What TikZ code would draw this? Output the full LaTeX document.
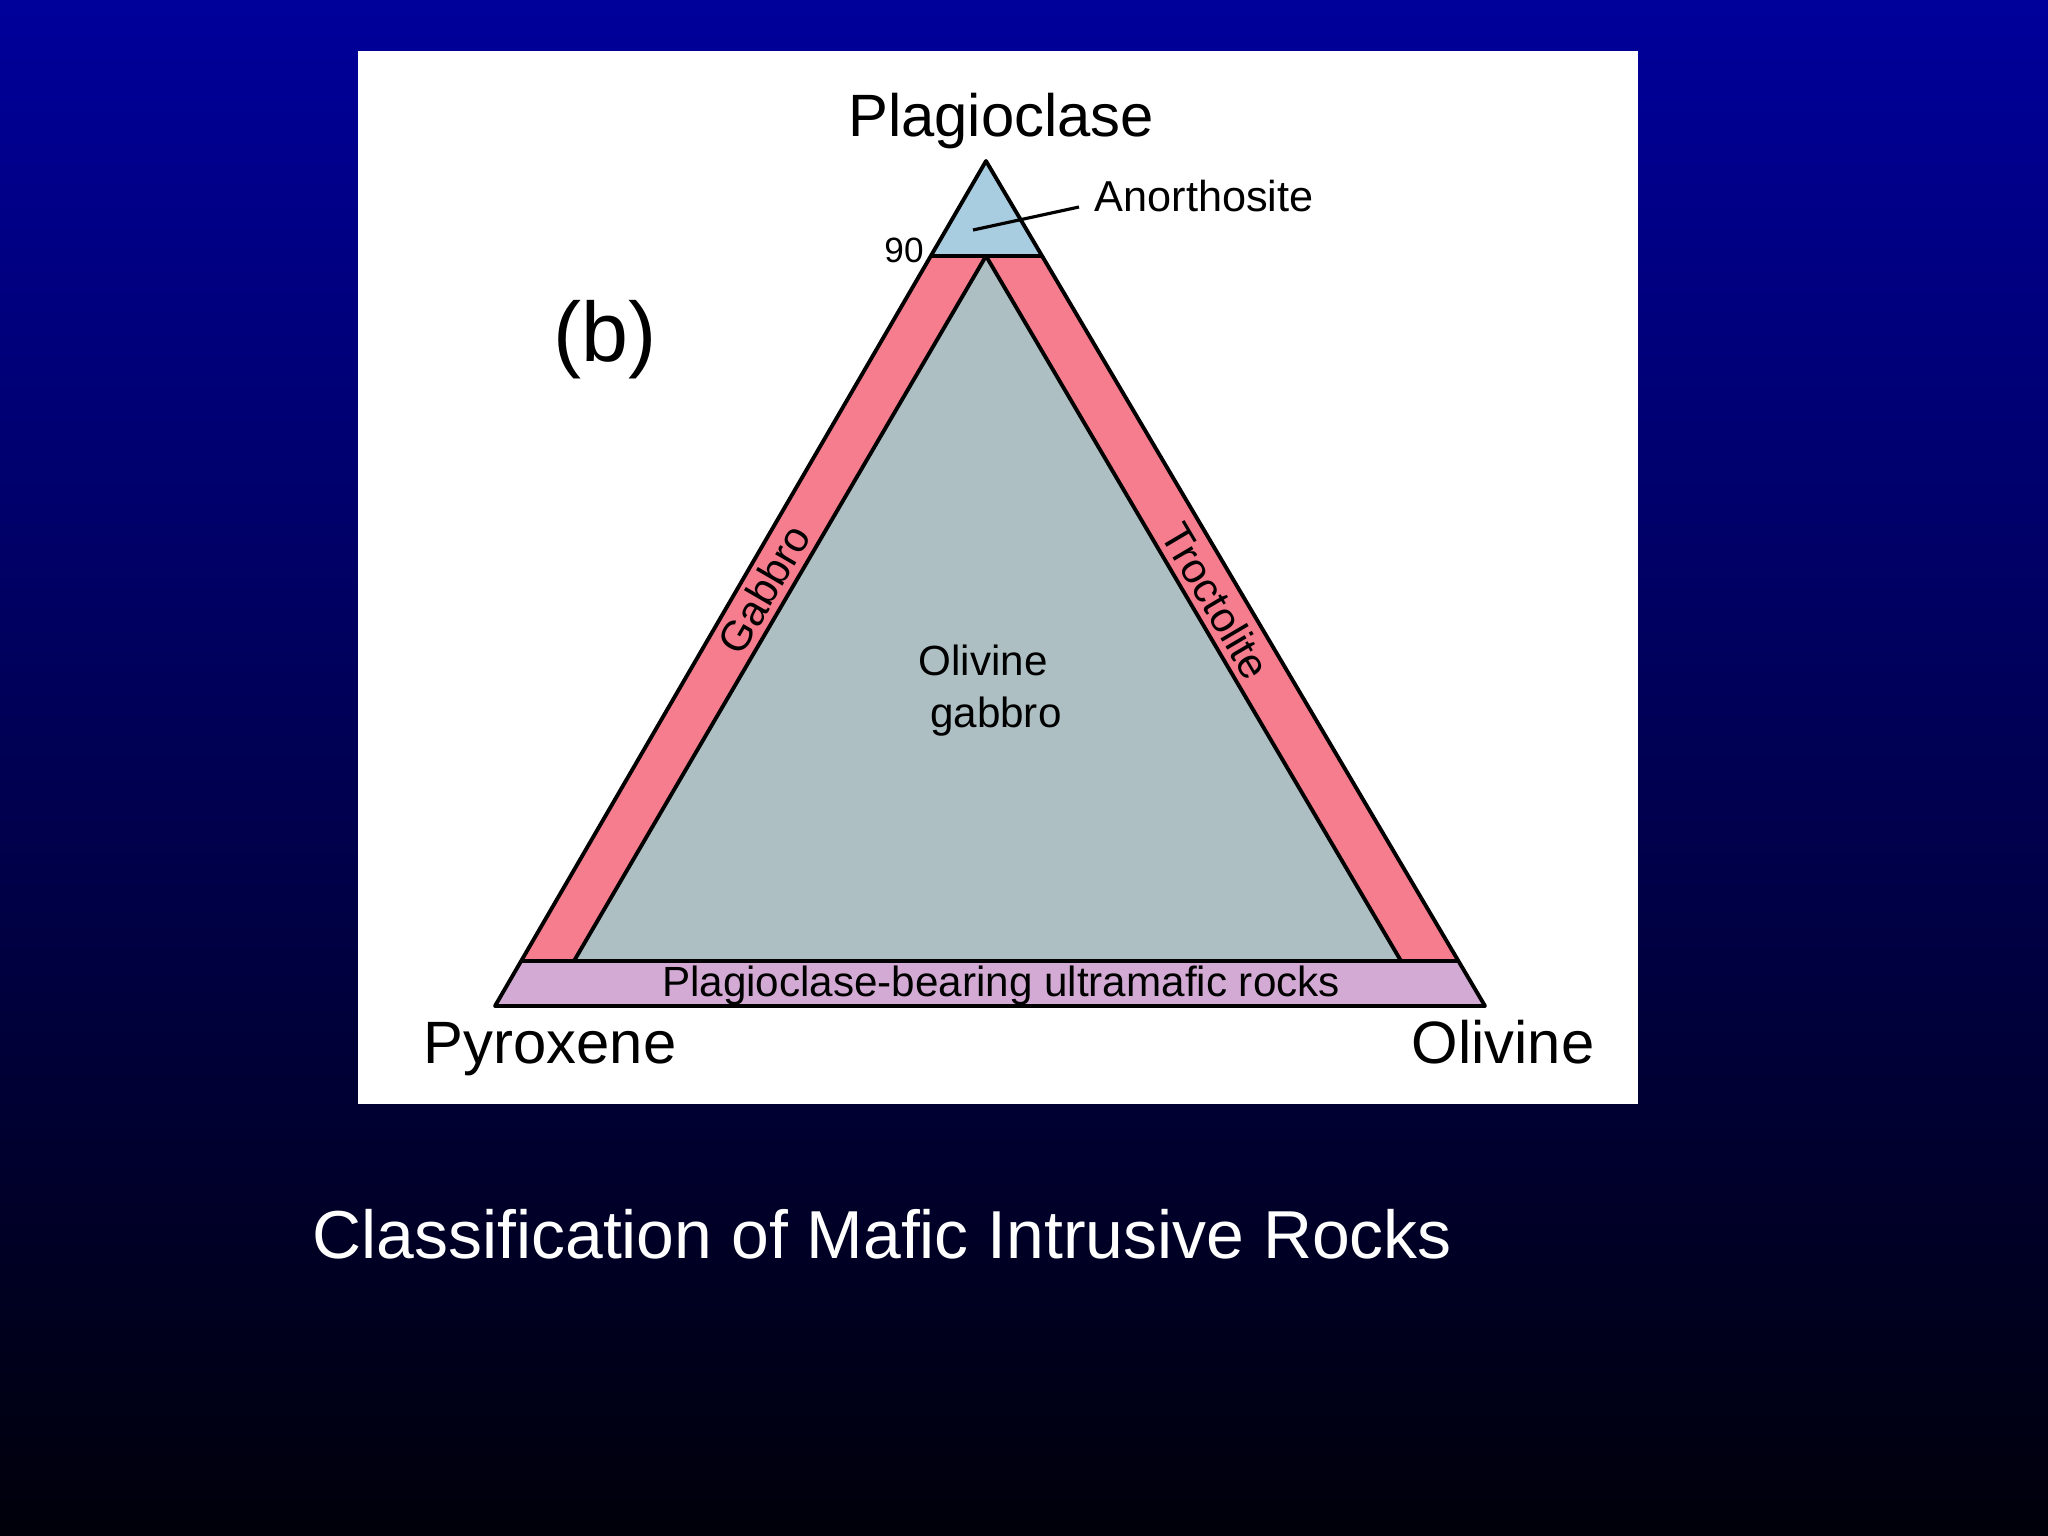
\documentclass[tikz,border=0pt]{standalone}
\usepackage{fontspec}
\setmainfont{Liberation Sans}
\definecolor{bgtop}{RGB}{0,0,155}
\definecolor{bgmid}{RGB}{0,0,62}
\definecolor{bgbot}{RGB}{0,0,10}
\definecolor{anorth}{RGB}{168,204,224}
\definecolor{gabpink}{RGB}{245,125,142}
\definecolor{olgray}{RGB}{173,191,195}
\definecolor{ultrap}{RGB}{211,170,212}
\tikzset{
  lbl/.style={inner sep=0pt, text=black},
  vertex/.style={lbl, font=\fontsize{17}{20}\selectfont},
  field/.style={lbl, font=\fontsize{12}{14.8}\selectfont},
  border/.style={line width=1.1pt, line join=round}
}
\begin{document}
\begin{tikzpicture}[x=0.01cm, y=-0.01cm]
\useasboundingbox (0,0) rectangle (2048,1536);
\shade[top color=bgtop, middle color=bgmid, bottom color=bgbot] (0,0) rectangle (2048,1536);
\fill[white] (358,51) rectangle (1638,1104);
\coordinate (Pl) at (986,161);
\coordinate (Py) at (495,1006);
\coordinate (Ol) at (1485,1006);
\coordinate (a1) at (931,256);
\coordinate (a2) at (1042,256);
\coordinate (b1) at (521,961);
\coordinate (b2) at (1458,961);
\coordinate (g0) at (986,256);
\coordinate (g1) at (574,961);
\coordinate (g2) at (1401,961);
\fill[gabpink] (a1) -- (a2) -- (b2) -- (b1) -- cycle;
\fill[olgray] (g0) -- (g2) -- (g1) -- cycle;
\fill[anorth] (Pl) -- (a2) -- (a1) -- cycle;
\fill[ultrap] (b1) -- (b2) -- (Ol) -- (Py) -- cycle;
\draw[border] (g1) -- (g0) -- (g2);
\draw[border] (a1) -- (a2);
\draw[border] (b1) -- (b2);
\draw[border] (Pl) -- (Ol) -- (Py) -- cycle;
\node[vertex, anchor=base] (plag) at (1001,136) {Plagioclase};
\node[vertex, anchor=base] (pyx) at (550,1063) {Pyroxene};
\node[vertex, anchor=base] (oliv) at (1503,1063) {Olivine};
\node[field, anchor=base west, font=\fontsize{12.3}{14}\selectfont] (anor) at (1094,211) {Anorthosite};
\coordinate (anorpt) at (973,230);
\coordinate (anortip) at (1079,207);
\draw[line width=0.9pt] (anorpt) -- (anortip);
\node[lbl, font=\fontsize{10}{12}\selectfont] (ninety) at (904,250) {90};
\node[lbl, font=\fontsize{24}{28}\selectfont] (panel) at (605,340) {(b)};
\node[field, rotate=59.8] (gab) at (764,589) {Gabbro};
\node[field, rotate=-59.4] (troc) at (1216,601) {Troctolite};
\node[field, align=left] (olgab) at (990,691) {Olivine\\\hspace*{3.3pt}gabbro};
\node[field] (ultra) at (1001,986) {Plagioclase-bearing ultramafic rocks};
\node[lbl, text=white, anchor=base west, font=\fontsize{19.3}{23}\selectfont] (title) at (312,1258) {Classification of Mafic Intrusive Rocks};
\end{tikzpicture}
\end{document}
